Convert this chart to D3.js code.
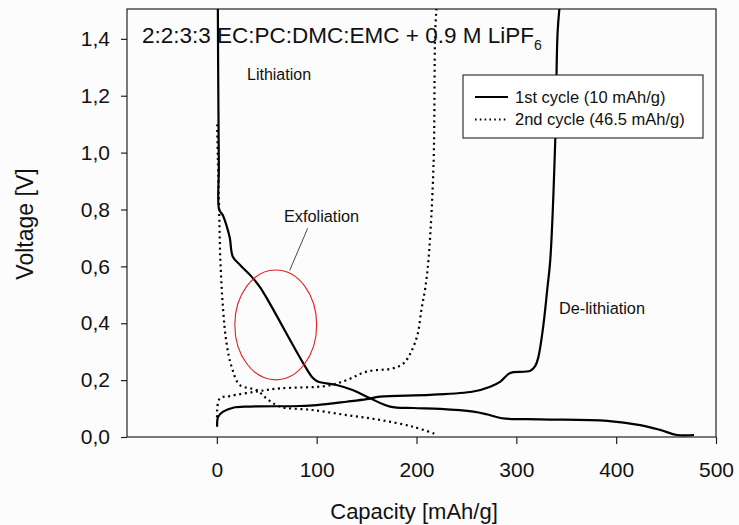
<!DOCTYPE html>
<html>

<head>
  <title>Voltage profile</title>
  <meta charset="UTF-8">
  <script src="https://d3js.org/d3.v7.min.js"></script>
  <style type="text/css">
    body {
      margin: 0;
      background: #fcfcfc;
    }

    text {
      font-family: "Liberation Sans", Arial, sans-serif;
      fill: #111;
    }
  </style>
</head>

<body>
  <script type="text/javascript">
    // values: [capacity mAh/g, voltage V]
    var cycle1Lithiation = [
      [1, 1.52], [1.3, 1.3], [2, 0.95], [2.3, 0.80], [6, 0.78], [10, 0.74], [13, 0.70],
      [16, 0.634], [23, 0.606], [35, 0.563], [43, 0.528], [51, 0.482], [86.6, 0.259],
      [96, 0.208], [101, 0.195], [120, 0.183], [136, 0.165], [153, 0.137], [173.5, 0.107],
      [196.6, 0.102], [223.7, 0.099], [257, 0.089], [270, 0.08], [285.5, 0.066], [324, 0.062],
      [391, 0.057], [424, 0.042], [444, 0.025], [461, 0.007], [478, 0.007]
    ];
    var cycle1Delithiation = [
      [0.3, 0.036], [1.3, 0.071], [6.3, 0.089], [16.3, 0.103], [33, 0.107], [83, 0.109],
      [100, 0.112], [130, 0.124], [150, 0.133], [163.5, 0.142], [213.6, 0.148], [256.8, 0.16],
      [273.8, 0.177], [284, 0.195], [292.2, 0.222], [297, 0.228], [314, 0.233], [319, 0.25],
      [322, 0.28], [325, 0.34], [328, 0.42], [331, 0.52], [334, 0.623], [339, 1.046],
      [341.3, 1.42], [343.5, 1.52]
    ];
    var cycle2Lithiation = [
      [0.3, 1.099], [1, 0.98], [2.3, 0.80], [3.5, 0.623], [6.3, 0.447], [9.7, 0.33],
      [14.7, 0.248], [23, 0.183], [39.8, 0.165], [50, 0.135], [63, 0.107], [96, 0.095],
      [130, 0.077], [163.5, 0.06], [196.6, 0.036], [220, 0.009]
    ];
    var cycle2Delithiation = [
      [0.2, 0.07], [0.3, 0.095], [3, 0.136], [13, 0.144], [40, 0.16], [63, 0.171],
      [110, 0.18], [130, 0.20], [150, 0.23], [177, 0.242], [187, 0.259], [194, 0.295],
      [201, 0.36], [205, 0.45], [208.6, 0.52], [212, 0.623], [217, 0.951], [218.7, 1.423],
      [220.3, 1.52]
    ];
    var xTicks = [0, 100, 200, 300, 400, 500];
    var yTicks = [0, 0.2, 0.4, 0.6, 0.8, 1.0, 1.2, 1.4];
    var legendLabels = ['1st cycle (10 mAh/g)', '2nd cycle (46.5 mAh/g)'];
    // exfoliation ellipse: centre and radii in data units
    var exfoliation = { cx: 59, cy: 0.394, rx: 41, ry: 0.193 };

    var margin = { top: 9, right: 23, bottom: 88, left: 127 },
      width = 739 - margin.left - margin.right,
      height = 525 - margin.top - margin.bottom;

    var x = d3.scaleLinear().domain([-90, 500]).range([0, width]);
    var y = d3.scaleLinear().domain([0, 1.505]).range([height, 0]);

    var svg = d3.select('body').append('svg')
      .attr('width', 739)
      .attr('height', 525)
      .append('g')
      .attr('transform', 'translate(' + margin.left + ',' + margin.top + ')');

    svg.append('clipPath').attr('id', 'plot')
      .append('rect').attr('width', width).attr('height', height);

    // frame
    svg.append('rect')
      .attr('width', width).attr('height', height)
      .style('fill', 'none').style('stroke', '#222').style('stroke-width', 1.2);

    var fmt = function (d) { return d3.format('.1f')(d).replace('.', ','); };

    var xAxis = svg.append('g')
      .attr('transform', 'translate(0,' + height + ')')
      .call(d3.axisBottom(x).tickValues(xTicks).tickSize(7).tickPadding(18).tickSizeOuter(0));
    var yAxis = svg.append('g')
      .call(d3.axisLeft(y).tickValues(yTicks).tickFormat(fmt).tickSize(6).tickPadding(11).tickSizeOuter(0));

    [xAxis, yAxis].forEach(function (a) {
      a.select('.domain').remove();
      a.selectAll('line').style('stroke', '#222').style('stroke-width', 1.2);
      a.selectAll('text').style('font-size', '21px').style('font-family', '"Liberation Sans", Arial, sans-serif')
        .style('fill', '#111');
    });

    // curves
    var line = d3.line()
      .x(function (d) { return x(d[0]); })
      .y(function (d) { return y(d[1]); })
      .curve(d3.curveCatmullRom.alpha(0.5));

    var curves = svg.append('g').attr('clip-path', 'url(#plot)');
    [cycle1Lithiation, cycle1Delithiation].forEach(function (c) {
      curves.append('path').datum(c).attr('d', line)
        .style('fill', 'none').style('stroke', '#000').style('stroke-width', 2.2);
    });
    [cycle2Lithiation, cycle2Delithiation].forEach(function (c) {
      curves.append('path').datum(c).attr('d', line)
        .style('fill', 'none').style('stroke', '#000').style('stroke-width', 2.2)
        .style('stroke-dasharray', '2,3.6');
    });

    // red ellipse marking the exfoliation region
    svg.append('ellipse')
      .attr('cx', x(exfoliation.cx)).attr('cy', y(exfoliation.cy))
      .attr('rx', x(exfoliation.cx + exfoliation.rx) - x(exfoliation.cx))
      .attr('ry', y(exfoliation.cy - exfoliation.ry) - y(exfoliation.cy))
      .style('fill', 'none').style('stroke', '#e02020').style('stroke-width', 1.1);

    // leader line from label to ellipse
    svg.append('line')
      .attr('x1', x(91)).attr('y1', y(0.734))
      .attr('x2', x(73)).attr('y2', y(0.586))
      .style('stroke', '#333').style('stroke-width', 0.9);

    // annotations
    var title = svg.append('text')
      .attr('x', 15).attr('y', 34)
      .style('font-size', '22.5px');
    title.append('tspan').text('2:2:3:3 EC:PC:DMC:EMC + 0.9 M LiPF');
    title.append('tspan').text('6').attr('dy', 7).style('font-size', '14px');

    svg.append('text').attr('x', 120).attr('y', 71).style('font-size', '16px').text('Lithiation');
    svg.append('text').attr('x', 157).attr('y', 213).style('font-size', '16.3px').text('Exfoliation');
    svg.append('text').attr('x', 432).attr('y', 305).style('font-size', '16.3px').text('De-lithiation');

    // legend
    var legend = svg.append('g').attr('transform', 'translate(336,66)');
    legend.append('rect')
      .attr('width', 240).attr('height', 63)
      .style('fill', '#fff').style('stroke', '#222').style('stroke-width', 1.1);
    legendLabels.forEach(function (label, i) {
      var row = legend.append('g').attr('transform', 'translate(0,' + (22 + i * 22.5) + ')');
      row.append('line')
        .attr('x1', 12).attr('x2', 45)
        .style('stroke', '#000').style('stroke-width', i === 0 ? 2 : 1.8)
        .style('stroke-dasharray', i === 0 ? null : '1.6,3.2');
      row.append('text')
        .attr('x', 52).attr('y', 5.5)
        .style('font-size', '16.5px')
        .text(label);
    });

    // axis labels
    svg.append('text')
      .attr('transform', 'translate(' + (414 - margin.left) + ',' + (519 - margin.top) + ')')
      .style('text-anchor', 'middle')
      .style('font-size', '22px')
      .text('Capacity [mAh/g]');

    svg.append('text')
      .attr('transform', 'translate(' + (33 - margin.left) + ',' + (224 - margin.top) + ') rotate(-90)')
      .style('text-anchor', 'middle')
      .style('font-size', '23px')
      .text('Voltage [V]');
  </script>
</body>

</html>
